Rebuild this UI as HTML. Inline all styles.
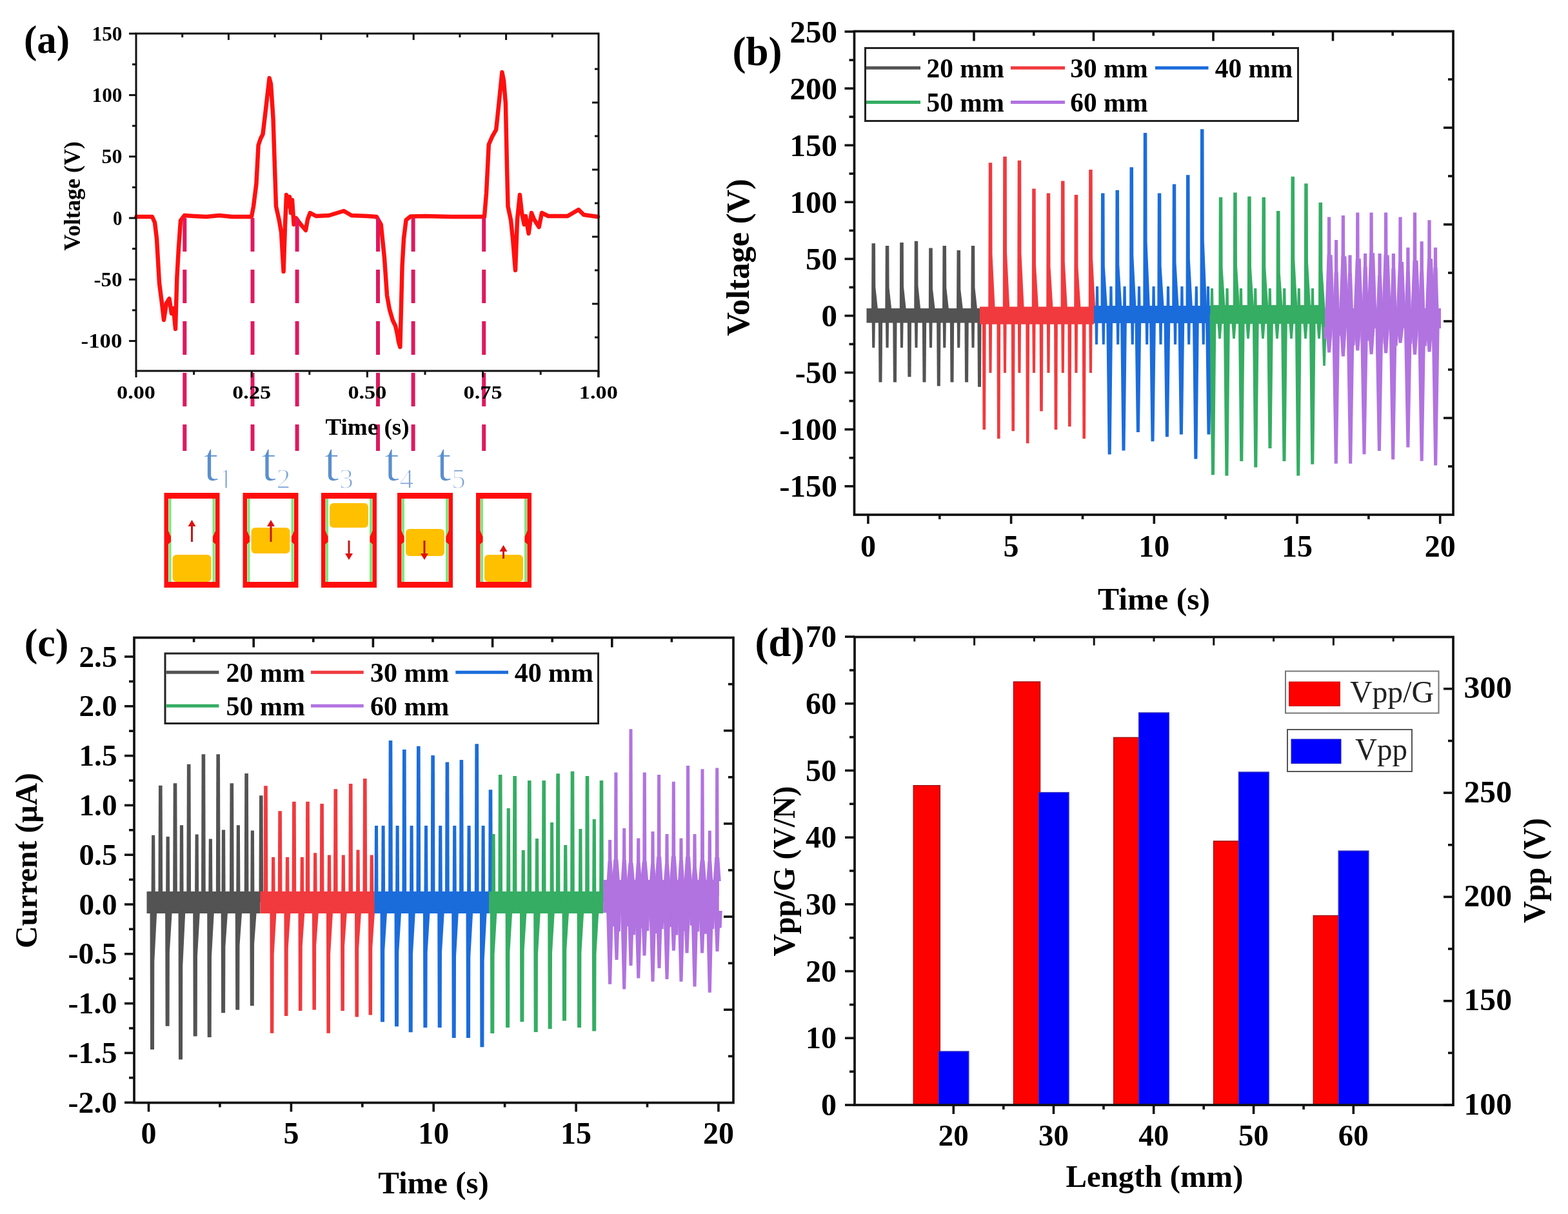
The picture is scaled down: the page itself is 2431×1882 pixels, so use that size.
<!DOCTYPE html>
<html><head><meta charset="utf-8"><title>Figure</title>
<style>
html,body{margin:0;padding:0;background:#fff;}
svg{display:block;}
text{font-family:'Liberation Serif', 'Times New Roman', serif;}
</style></head>
<body>
<svg width="2431" height="1882" viewBox="0 0 2431 1882">
<rect x="0" y="0" width="2431" height="1882" fill="#fff"/>
<g>
<rect x="0" y="0" width="2431" height="1882" fill="#fff"/>
<polyline points="211.5,336 236,336 240,345 243,370 247,439 251,470 254,496 258,470 262.5,463 266,486 269,478 272,510 274.4,430 277,384 280,342 286,334 300,335 320,336 340,334 360,336 390,336 393,320 397.4,285 400.6,225 404,215 407.5,208 412,170 417.6,121 420,130 423.5,183 426,260 428,320 432.7,341 436,360 439.6,421 442,350 444,302 447,320 449,305 451,330 453,310 455.6,348 459,338 462.5,343 468,350 474,357 477,340 480.8,330 490,335 510,334 533,327 545,334 570,335 583.8,336 590.7,348 596,400 600,458 604,480 609,497 613,505 615.8,517 618,530 620.4,538 623.6,412 626,370 629.6,341 636.4,335.6 660,335 700,336 751,336 754,300 757.8,224 763,212 769.2,201 773,165 778.4,112 781,125 783.9,160 786,260 787.5,320 792,341 795,370 799,419 802,340 805.9,302 809,330 812.7,348 815,335 819.6,362 824,330 828,340 835.6,352 840,330 850,335 880,335 897,325 905,333 927,336" fill="none" stroke="#ff1010" stroke-width="6.5" stroke-linejoin="round" stroke-linecap="round" />
<line x1="286.3" y1="338" x2="286.3" y2="699" stroke="#e0185e" stroke-width="6" stroke-dasharray="52 28"/>
<line x1="391.5" y1="338" x2="391.5" y2="699" stroke="#e0185e" stroke-width="6" stroke-dasharray="52 28"/>
<line x1="460.6" y1="338" x2="460.6" y2="699" stroke="#e0185e" stroke-width="6" stroke-dasharray="52 28"/>
<line x1="586" y1="338" x2="586" y2="699" stroke="#e0185e" stroke-width="6" stroke-dasharray="52 28"/>
<line x1="640.6" y1="338" x2="640.6" y2="699" stroke="#e0185e" stroke-width="6" stroke-dasharray="52 28"/>
<line x1="750.2" y1="338" x2="750.2" y2="699" stroke="#e0185e" stroke-width="6" stroke-dasharray="52 28"/>
<rect x="211" y="52" width="717" height="523" fill="none" stroke="#111" stroke-width="3" />
<line x1="200" y1="528.6" x2="211" y2="528.6" stroke="#111" stroke-width="3" />
<line x1="205" y1="480.9" x2="211" y2="480.9" stroke="#111" stroke-width="3" />
<line x1="200" y1="433.3" x2="211" y2="433.3" stroke="#111" stroke-width="3" />
<line x1="205" y1="385.6" x2="211" y2="385.6" stroke="#111" stroke-width="3" />
<line x1="200" y1="338" x2="211" y2="338" stroke="#111" stroke-width="3" />
<line x1="205" y1="290.4" x2="211" y2="290.4" stroke="#111" stroke-width="3" />
<line x1="200" y1="242.7" x2="211" y2="242.7" stroke="#111" stroke-width="3" />
<line x1="205" y1="195.1" x2="211" y2="195.1" stroke="#111" stroke-width="3" />
<line x1="200" y1="147.4" x2="211" y2="147.4" stroke="#111" stroke-width="3" />
<line x1="205" y1="99.8" x2="211" y2="99.8" stroke="#111" stroke-width="3" />
<line x1="200" y1="52.1" x2="211" y2="52.1" stroke="#111" stroke-width="3" />
<line x1="922" y1="523" x2="928" y2="523" stroke="#111" stroke-width="3" />
<line x1="918" y1="471" x2="928" y2="471" stroke="#111" stroke-width="3" />
<line x1="922" y1="419" x2="928" y2="419" stroke="#111" stroke-width="3" />
<line x1="918" y1="367" x2="928" y2="367" stroke="#111" stroke-width="3" />
<line x1="922" y1="315" x2="928" y2="315" stroke="#111" stroke-width="3" />
<line x1="918" y1="263" x2="928" y2="263" stroke="#111" stroke-width="3" />
<line x1="922" y1="211" x2="928" y2="211" stroke="#111" stroke-width="3" />
<line x1="918" y1="159" x2="928" y2="159" stroke="#111" stroke-width="3" />
<line x1="922" y1="107" x2="928" y2="107" stroke="#111" stroke-width="3" />
<line x1="282.7" y1="52" x2="282.7" y2="58" stroke="#111" stroke-width="3" />
<line x1="354.4" y1="52" x2="354.4" y2="62" stroke="#111" stroke-width="3" />
<line x1="426.1" y1="52" x2="426.1" y2="58" stroke="#111" stroke-width="3" />
<line x1="497.8" y1="52" x2="497.8" y2="62" stroke="#111" stroke-width="3" />
<line x1="569.5" y1="52" x2="569.5" y2="58" stroke="#111" stroke-width="3" />
<line x1="641.2" y1="52" x2="641.2" y2="62" stroke="#111" stroke-width="3" />
<line x1="712.9" y1="52" x2="712.9" y2="58" stroke="#111" stroke-width="3" />
<line x1="784.6" y1="52" x2="784.6" y2="62" stroke="#111" stroke-width="3" />
<line x1="856.3" y1="52" x2="856.3" y2="58" stroke="#111" stroke-width="3" />
<line x1="211" y1="575" x2="211" y2="585" stroke="#111" stroke-width="3" />
<line x1="300.6" y1="575" x2="300.6" y2="581" stroke="#111" stroke-width="3" />
<line x1="390.2" y1="575" x2="390.2" y2="585" stroke="#111" stroke-width="3" />
<line x1="479.8" y1="575" x2="479.8" y2="581" stroke="#111" stroke-width="3" />
<line x1="569.4" y1="575" x2="569.4" y2="585" stroke="#111" stroke-width="3" />
<line x1="659" y1="575" x2="659" y2="581" stroke="#111" stroke-width="3" />
<line x1="748.6" y1="575" x2="748.6" y2="585" stroke="#111" stroke-width="3" />
<line x1="838.2" y1="575" x2="838.2" y2="581" stroke="#111" stroke-width="3" />
<line x1="927.8" y1="575" x2="927.8" y2="585" stroke="#111" stroke-width="3" />
<line x1="928" y1="575" x2="928" y2="585" stroke="#111" stroke-width="3" />
<text x="189.5" y="62.6" font-size="31" font-weight="bold" fill="#000" text-anchor="end" textLength="47" lengthAdjust="spacingAndGlyphs" >150</text>
<text x="189.5" y="157.9" font-size="31" font-weight="bold" fill="#000" text-anchor="end" textLength="47" lengthAdjust="spacingAndGlyphs" >100</text>
<text x="189.5" y="253.2" font-size="31" font-weight="bold" fill="#000" text-anchor="end" textLength="32" lengthAdjust="spacingAndGlyphs" >50</text>
<text x="189.5" y="348.5" font-size="31" font-weight="bold" fill="#000" text-anchor="end" textLength="14.5" lengthAdjust="spacingAndGlyphs" >0</text>
<text x="189.5" y="443.8" font-size="31" font-weight="bold" fill="#000" text-anchor="end" textLength="44" lengthAdjust="spacingAndGlyphs" >-50</text>
<text x="189.5" y="539.1" font-size="31" font-weight="bold" fill="#000" text-anchor="end" textLength="64" lengthAdjust="spacingAndGlyphs" >-100</text>
<text x="211" y="618" font-size="29" font-weight="bold" fill="#000" text-anchor="middle" textLength="60" lengthAdjust="spacingAndGlyphs" >0.00</text>
<text x="390.2" y="618" font-size="29" font-weight="bold" fill="#000" text-anchor="middle" textLength="60" lengthAdjust="spacingAndGlyphs" >0.25</text>
<text x="569.4" y="618" font-size="29" font-weight="bold" fill="#000" text-anchor="middle" textLength="60" lengthAdjust="spacingAndGlyphs" >0.50</text>
<text x="748.6" y="618" font-size="29" font-weight="bold" fill="#000" text-anchor="middle" textLength="60" lengthAdjust="spacingAndGlyphs" >0.75</text>
<text x="927.8" y="618" font-size="29" font-weight="bold" fill="#000" text-anchor="middle" textLength="60" lengthAdjust="spacingAndGlyphs" >1.00</text>
<text x="569.5" y="673.5" font-size="35" font-weight="bold" fill="#000" text-anchor="middle" textLength="130" lengthAdjust="spacingAndGlyphs" >Time (s)</text>
<text transform="translate(124,304) rotate(-90)" x="0" y="0" font-size="35" font-weight="bold" fill="#000" text-anchor="middle" textLength="169.5" lengthAdjust="spacingAndGlyphs" >Voltage (V)</text>
<text x="72.5" y="81.5" font-size="61" font-weight="bold" fill="#000" text-anchor="middle" >(a)</text>
<text x="315" y="745" font-size="86" font-weight="normal" fill="#5b8fcf" stroke="#fff" stroke-width="1.6" paint-order="fill">t</text>
<text x="339" y="756.5" font-size="44" font-weight="normal" fill="#7da3d8" stroke="#fff" stroke-width="1.4">1</text>
<text x="404.5" y="745" font-size="86" font-weight="normal" fill="#5b8fcf" stroke="#fff" stroke-width="1.6" paint-order="fill">t</text>
<text x="428.5" y="756.5" font-size="44" font-weight="normal" fill="#7da3d8" stroke="#fff" stroke-width="1.4">2</text>
<text x="502" y="745" font-size="86" font-weight="normal" fill="#5b8fcf" stroke="#fff" stroke-width="1.6" paint-order="fill">t</text>
<text x="526" y="756.5" font-size="44" font-weight="normal" fill="#7da3d8" stroke="#fff" stroke-width="1.4">3</text>
<text x="595.5" y="745" font-size="86" font-weight="normal" fill="#5b8fcf" stroke="#fff" stroke-width="1.6" paint-order="fill">t</text>
<text x="619.5" y="756.5" font-size="44" font-weight="normal" fill="#7da3d8" stroke="#fff" stroke-width="1.4">4</text>
<text x="676" y="745" font-size="86" font-weight="normal" fill="#5b8fcf" stroke="#fff" stroke-width="1.6" paint-order="fill">t</text>
<text x="700" y="756.5" font-size="44" font-weight="normal" fill="#7da3d8" stroke="#fff" stroke-width="1.4">5</text>
<rect x="254.5" y="764" width="86" height="147" fill="#ff0d0d" stroke="none" stroke-width="0" />
<rect x="261" y="773" width="73" height="129" fill="#ffffff" stroke="none" stroke-width="0" />
<rect x="261.5" y="773" width="4" height="129" fill="#7ee87e" stroke="none" stroke-width="0" />
<rect x="329.5" y="773" width="4" height="129" fill="#7ee87e" stroke="none" stroke-width="0" />
<polygon points="260.5,822 265,832 265,840 260.5,844" fill="#ff0d0d" />
<polygon points="334.5,822 330,832 330,840 334.5,844" fill="#ff0d0d" />
<rect x="267.5" y="860" width="60" height="42" rx="6" fill="#ffc000"/>
<line x1="297.5" y1="840" x2="297.5" y2="814" stroke="#c01818" stroke-width="3" />
<polygon points="291.5,816 303.5,816 297.5,806" fill="#e01010" />
<rect x="376.5" y="764" width="86" height="147" fill="#ff0d0d" stroke="none" stroke-width="0" />
<rect x="383" y="773" width="73" height="129" fill="#ffffff" stroke="none" stroke-width="0" />
<rect x="383.5" y="773" width="4" height="129" fill="#7ee87e" stroke="none" stroke-width="0" />
<rect x="451.5" y="773" width="4" height="129" fill="#7ee87e" stroke="none" stroke-width="0" />
<polygon points="382.5,822 387,832 387,840 382.5,844" fill="#ff0d0d" />
<polygon points="456.5,822 452,832 452,840 456.5,844" fill="#ff0d0d" />
<rect x="389.5" y="818" width="60" height="40" rx="6" fill="#ffc000"/>
<line x1="420" y1="840" x2="420" y2="814" stroke="#c01818" stroke-width="3" />
<polygon points="414,816 426,816 420,806" fill="#e01010" />
<rect x="498" y="764" width="86" height="147" fill="#ff0d0d" stroke="none" stroke-width="0" />
<rect x="504.5" y="773" width="73" height="129" fill="#ffffff" stroke="none" stroke-width="0" />
<rect x="505" y="773" width="4" height="129" fill="#7ee87e" stroke="none" stroke-width="0" />
<rect x="573" y="773" width="4" height="129" fill="#7ee87e" stroke="none" stroke-width="0" />
<polygon points="504,822 508.5,832 508.5,840 504,844" fill="#ff0d0d" />
<polygon points="578,822 573.5,832 573.5,840 578,844" fill="#ff0d0d" />
<rect x="511" y="780" width="60" height="38" rx="6" fill="#ffc000"/>
<line x1="541" y1="838" x2="541" y2="860" stroke="#c01818" stroke-width="3" />
<polygon points="535,858 547,858 541,868" fill="#e01010" />
<rect x="616" y="764" width="86" height="147" fill="#ff0d0d" stroke="none" stroke-width="0" />
<rect x="622.5" y="773" width="73" height="129" fill="#ffffff" stroke="none" stroke-width="0" />
<rect x="623" y="773" width="4" height="129" fill="#7ee87e" stroke="none" stroke-width="0" />
<rect x="691" y="773" width="4" height="129" fill="#7ee87e" stroke="none" stroke-width="0" />
<polygon points="622,822 626.5,832 626.5,840 622,844" fill="#ff0d0d" />
<polygon points="696,822 691.5,832 691.5,840 696,844" fill="#ff0d0d" />
<rect x="629" y="820" width="60" height="42" rx="6" fill="#ffc000"/>
<line x1="658" y1="838" x2="658" y2="860" stroke="#c01818" stroke-width="3" />
<polygon points="652,858 664,858 658,868" fill="#e01010" />
<rect x="738" y="764" width="86" height="147" fill="#ff0d0d" stroke="none" stroke-width="0" />
<rect x="744.5" y="773" width="73" height="129" fill="#ffffff" stroke="none" stroke-width="0" />
<rect x="745" y="773" width="4" height="129" fill="#7ee87e" stroke="none" stroke-width="0" />
<rect x="813" y="773" width="4" height="129" fill="#7ee87e" stroke="none" stroke-width="0" />
<polygon points="744,822 748.5,832 748.5,840 744,844" fill="#ff0d0d" />
<polygon points="818,822 813.5,832 813.5,840 818,844" fill="#ff0d0d" />
<rect x="751" y="860" width="60" height="42" rx="6" fill="#ffc000"/>
<line x1="780.5" y1="866" x2="780.5" y2="853" stroke="#c01818" stroke-width="3" />
<polygon points="774.5,855 786.5,855 780.5,845" fill="#e01010" />
<rect x="1343.5" y="478" width="175.5" height="22.5" fill="#535353" stroke="none" stroke-width="0" />
<polygon points="1351.6,489.2 1352.2,539 1356.3,539 1357,489.2" fill="#535353" />
<polygon points="1372.9,489.2 1373.5,539 1377.6,539 1378.2,489.2" fill="#535353" />
<polygon points="1395.3,489.2 1396,539 1400,539 1400.7,489.2" fill="#535353" />
<polygon points="1417.8,489.2 1418.5,539 1422.5,539 1423.2,489.2" fill="#535353" />
<polygon points="1440.3,489.2 1441,539 1445,539 1445.7,489.2" fill="#535353" />
<polygon points="1461.6,489.2 1462.2,539 1466.3,539 1467,489.2" fill="#535353" />
<polygon points="1483.6,489.2 1484.2,539 1488.3,539 1489,489.2" fill="#535353" />
<polygon points="1505.8,489.2 1506.5,539 1510.5,539 1511.2,489.2" fill="#535353" />
<polygon points="1361.8,489.2 1362.5,592.6 1367.5,592.6 1368.2,489.2" fill="#535353" />
<polygon points="1384.2,489.2 1384.9,592.6 1390,592.6 1390.6,489.2" fill="#535353" />
<polygon points="1406.8,489.2 1407.4,584.3 1412.5,584.3 1413.1,489.2" fill="#535353" />
<polygon points="1429.8,489.2 1430.5,592.6 1435.5,592.6 1436.2,489.2" fill="#535353" />
<polygon points="1452.1,489.2 1452.8,598.5 1457.8,598.5 1458.5,489.2" fill="#535353" />
<polygon points="1472.8,489.2 1473.5,592.6 1478.5,592.6 1479.2,489.2" fill="#535353" />
<polygon points="1495.4,489.2 1496,592.6 1501.1,592.6 1501.8,489.2" fill="#535353" />
<polygon points="1515.3,489.2 1516,599.7 1521,599.7 1521.7,489.2" fill="#535353" />
<polygon points="1351,489.2 1351.5,377.3 1357,377.3 1357.3,444.5 1362,489.2" fill="#535353" />
<polygon points="1372.3,489.2 1372.8,380.9 1378.3,380.9 1378.6,445.9 1383.3,489.2" fill="#535353" />
<polygon points="1394.8,489.2 1395.2,376 1400.8,376 1401,443.9 1405.8,489.2" fill="#535353" />
<polygon points="1417.2,489.2 1417.8,373.8 1423.2,373.8 1423.5,443.1 1428.2,489.2" fill="#535353" />
<polygon points="1439.8,489.2 1440.2,384.4 1445.8,384.4 1446,447.3 1450.8,489.2" fill="#535353" />
<polygon points="1461,489.2 1461.5,380.9 1467,380.9 1467.3,445.9 1472,489.2" fill="#535353" />
<polygon points="1483,489.2 1483.5,388 1489,388 1489.3,448.8 1494,489.2" fill="#535353" />
<polygon points="1505.2,489.2 1505.8,380.9 1511.2,380.9 1511.5,445.9 1516.2,489.2" fill="#535353" />
<rect x="1519" y="475.5" width="177" height="27.2" fill="#f03a3e" stroke="none" stroke-width="0" />
<polygon points="1532.8,489.1 1533.5,578 1537.5,578 1538.2,489.1" fill="#f03a3e" />
<polygon points="1555.3,489.1 1556,578 1560,578 1560.7,489.1" fill="#f03a3e" />
<polygon points="1577.8,489.1 1578.4,578 1582.5,578 1583.1,489.1" fill="#f03a3e" />
<polygon points="1600.2,489.1 1600.9,578 1605,578 1605.6,489.1" fill="#f03a3e" />
<polygon points="1622.8,489.1 1623.4,578 1627.5,578 1628.1,489.1" fill="#f03a3e" />
<polygon points="1645.1,489.1 1645.8,578 1649.8,578 1650.5,489.1" fill="#f03a3e" />
<polygon points="1665.8,489.1 1666.4,578 1670.5,578 1671.1,489.1" fill="#f03a3e" />
<polygon points="1688.2,489.1 1688.9,578 1693,578 1693.6,489.1" fill="#f03a3e" />
<polygon points="1522.9,489.1 1523.5,665.9 1528.1,665.9 1528.7,489.1" fill="#f03a3e" />
<polygon points="1545.4,489.1 1546,680 1550.6,680 1551.2,489.1" fill="#f03a3e" />
<polygon points="1567.8,489.1 1568.4,668.3 1573,668.3 1573.6,489.1" fill="#f03a3e" />
<polygon points="1590.3,489.1 1590.9,687.2 1595.5,687.2 1596.1,489.1" fill="#f03a3e" />
<polygon points="1611.6,489.1 1612.2,637.5 1616.8,637.5 1617.4,489.1" fill="#f03a3e" />
<polygon points="1634.1,489.1 1634.7,665.9 1639.3,665.9 1639.9,489.1" fill="#f03a3e" />
<polygon points="1655.4,489.1 1656,661.2 1660.6,661.2 1661.2,489.1" fill="#f03a3e" />
<polygon points="1677.8,489.1 1678.4,680 1683,680 1683.6,489.1" fill="#f03a3e" />
<polygon points="1532.2,489.1 1532.8,252.3 1538.2,252.3 1538.5,394.4 1543.2,489.1" fill="#f03a3e" />
<polygon points="1554.8,489.1 1555.2,242.8 1560.8,242.8 1561,390.6 1565.8,489.1" fill="#f03a3e" />
<polygon points="1577.2,489.1 1577.7,248.7 1583.2,248.7 1583.5,392.9 1588.2,489.1" fill="#f03a3e" />
<polygon points="1599.7,489.1 1600.2,292.5 1605.7,292.5 1606,410.5 1610.7,489.1" fill="#f03a3e" />
<polygon points="1622.2,489.1 1622.7,299.6 1628.2,299.6 1628.5,413.3 1633.2,489.1" fill="#f03a3e" />
<polygon points="1644.5,489.1 1645,280.6 1650.5,280.6 1650.8,405.7 1655.5,489.1" fill="#f03a3e" />
<polygon points="1665.2,489.1 1665.7,301.9 1671.2,301.9 1671.5,414.2 1676.2,489.1" fill="#f03a3e" />
<polygon points="1687.7,489.1 1688.2,262.9 1693.7,262.9 1694,398.6 1698.7,489.1" fill="#f03a3e" />
<rect x="1696" y="474" width="181" height="27" fill="#1b6cdb" stroke="none" stroke-width="0" />
<polygon points="1697.3,487.5 1698,534 1702,534 1702.7,487.5" fill="#1b6cdb" />
<polygon points="1708.1,487.5 1708.8,534 1712.8,534 1713.5,487.5" fill="#1b6cdb" />
<polygon points="1730.5,487.5 1731.2,534 1735.2,534 1735.9,487.5" fill="#1b6cdb" />
<polygon points="1753,487.5 1753.7,534 1757.8,534 1758.4,487.5" fill="#1b6cdb" />
<polygon points="1775.5,487.5 1776.2,534 1780.2,534 1780.9,487.5" fill="#1b6cdb" />
<polygon points="1796.8,487.5 1797.5,534 1801.5,534 1802.2,487.5" fill="#1b6cdb" />
<polygon points="1819.3,487.5 1820,534 1824,534 1824.7,487.5" fill="#1b6cdb" />
<polygon points="1840.5,487.5 1841.2,534 1845.2,534 1845.9,487.5" fill="#1b6cdb" />
<polygon points="1863,487.5 1863.7,534 1867.8,534 1868.4,487.5" fill="#1b6cdb" />
<polygon points="1698.3,487.5 1699,444 1703,444 1703.7,487.5" fill="#1b6cdb" />
<polygon points="1719.8,487.5 1720.4,444 1724.5,444 1725.1,487.5" fill="#1b6cdb" />
<polygon points="1740.9,487.5 1741.5,444 1745.6,444 1746.2,487.5" fill="#1b6cdb" />
<polygon points="1763.3,487.5 1764,444 1768,444 1768.7,487.5" fill="#1b6cdb" />
<polygon points="1785.9,487.5 1786.5,444 1790.6,444 1791.2,487.5" fill="#1b6cdb" />
<polygon points="1808.3,487.5 1809,444 1813,444 1813.7,487.5" fill="#1b6cdb" />
<polygon points="1829.8,487.5 1830.4,444 1834.5,444 1835.1,487.5" fill="#1b6cdb" />
<polygon points="1852.1,487.5 1852.8,444 1856.8,444 1857.5,487.5" fill="#1b6cdb" />
<polygon points="1870.3,487.5 1871,444 1875,444 1875.7,487.5" fill="#1b6cdb" />
<polygon points="1715.2,487.5 1717.7,704.4 1722.7,704.4 1725.2,487.5" fill="#1b6cdb" />
<polygon points="1737,487.5 1739.5,698.5 1744.5,698.5 1747,487.5" fill="#1b6cdb" />
<polygon points="1759.4,487.5 1761.9,670 1766.9,670 1769.4,487.5" fill="#1b6cdb" />
<polygon points="1782,487.5 1784.5,684.3 1789.5,684.3 1792,487.5" fill="#1b6cdb" />
<polygon points="1804.4,487.5 1806.9,677.2 1811.9,677.2 1814.4,487.5" fill="#1b6cdb" />
<polygon points="1826.4,487.5 1828.9,673.6 1833.9,673.6 1836.4,487.5" fill="#1b6cdb" />
<polygon points="1848.9,487.5 1851.4,711.5 1856.4,711.5 1858.9,487.5" fill="#1b6cdb" />
<polygon points="1869,487.5 1871.5,673.6 1876.5,673.6 1879,487.5" fill="#1b6cdb" />
<polygon points="1706.5,487.5 1707,299.6 1712.5,299.6 1712.8,412.3 1717.5,487.5" fill="#1b6cdb" />
<polygon points="1729,487.5 1729.5,294.8 1735,294.8 1735.3,410.4 1740,487.5" fill="#1b6cdb" />
<polygon points="1751,487.5 1751.5,259.3 1757,259.3 1757.3,396.2 1762,487.5" fill="#1b6cdb" />
<polygon points="1772.3,487.5 1772.8,206.1 1778.3,206.1 1778.6,374.9 1783.3,487.5" fill="#1b6cdb" />
<polygon points="1794.3,487.5 1794.8,299.6 1800.3,299.6 1800.6,412.3 1805.3,487.5" fill="#1b6cdb" />
<polygon points="1817.2,487.5 1817.8,285.4 1823.2,285.4 1823.5,406.7 1828.2,487.5" fill="#1b6cdb" />
<polygon points="1838.5,487.5 1839,271.2 1844.5,271.2 1844.8,401 1849.5,487.5" fill="#1b6cdb" />
<polygon points="1860.5,487.5 1861,200.2 1866.5,200.2 1866.8,372.6 1871.5,487.5" fill="#1b6cdb" />
<rect x="1877" y="473" width="177" height="29" fill="#35ad63" stroke="none" stroke-width="0" />
<polygon points="1886.5,487.5 1889.2,525 1892.8,525 1895.5,487.5" fill="#35ad63" />
<polygon points="1908.5,487.5 1911.2,525 1914.8,525 1917.5,487.5" fill="#35ad63" />
<polygon points="1930.5,487.5 1933.2,525 1936.8,525 1939.5,487.5" fill="#35ad63" />
<polygon points="1953.5,487.5 1956.2,525 1959.8,525 1962.5,487.5" fill="#35ad63" />
<polygon points="1975.5,487.5 1978.2,525 1981.8,525 1984.5,487.5" fill="#35ad63" />
<polygon points="1997.5,487.5 2000.2,525 2003.8,525 2006.5,487.5" fill="#35ad63" />
<polygon points="2019.5,487.5 2022.2,525 2025.8,525 2028.5,487.5" fill="#35ad63" />
<polygon points="2040.5,487.5 2043.2,525 2046.8,525 2049.5,487.5" fill="#35ad63" />
<polygon points="2048.5,487.5 2051.2,567 2054.8,567 2057.5,487.5" fill="#35ad63" />
<polygon points="1876.3,487.5 1877,447 1881,447 1881.7,487.5" fill="#35ad63" />
<polygon points="1899.9,487.5 1900.5,447 1904.6,447 1905.2,487.5" fill="#35ad63" />
<polygon points="1921.2,487.5 1921.9,447 1926,447 1926.6,487.5" fill="#35ad63" />
<polygon points="1943.6,487.5 1944.2,447 1948.3,447 1949,487.5" fill="#35ad63" />
<polygon points="1966.1,487.5 1966.8,447 1970.8,447 1971.5,487.5" fill="#35ad63" />
<polygon points="1988.6,487.5 1989.2,447 1993.3,447 1994,487.5" fill="#35ad63" />
<polygon points="2011.1,487.5 2011.8,447 2015.8,447 2016.5,487.5" fill="#35ad63" />
<polygon points="2032.3,487.5 2033,447 2037,447 2037.7,487.5" fill="#35ad63" />
<polygon points="1875.5,487.5 1878,736.3 1883,736.3 1885.5,487.5" fill="#35ad63" />
<polygon points="1896.9,487.5 1899.4,737.5 1904.4,737.5 1906.9,487.5" fill="#35ad63" />
<polygon points="1919.8,487.5 1922.3,715 1927.3,715 1929.8,487.5" fill="#35ad63" />
<polygon points="1941.8,487.5 1944.3,724.5 1949.3,724.5 1951.8,487.5" fill="#35ad63" />
<polygon points="1964,487.5 1966.5,695 1971.5,695 1974,487.5" fill="#35ad63" />
<polygon points="1986,487.5 1988.5,715 1993.5,715 1996,487.5" fill="#35ad63" />
<polygon points="2007.8,487.5 2010.3,737.5 2015.3,737.5 2017.8,487.5" fill="#35ad63" />
<polygon points="2029.8,487.5 2032.3,719.8 2037.3,719.8 2039.8,487.5" fill="#35ad63" />
<polygon points="1889.3,487.5 1889.8,305.7 1895.3,305.7 1895.6,414.8 1900.3,487.5" fill="#35ad63" />
<polygon points="1911.7,487.5 1912.2,298.6 1917.7,298.6 1918,411.9 1922.7,487.5" fill="#35ad63" />
<polygon points="1933.7,487.5 1934.2,304.5 1939.7,304.5 1940,414.3 1944.7,487.5" fill="#35ad63" />
<polygon points="1956,487.5 1956.5,305.7 1962,305.7 1962.3,414.8 1967,487.5" fill="#35ad63" />
<polygon points="1978.5,487.5 1979,327 1984.5,327 1984.8,423.3 1989.5,487.5" fill="#35ad63" />
<polygon points="2001,487.5 2001.5,273.8 2007,273.8 2007.3,402 2012,487.5" fill="#35ad63" />
<polygon points="2021.7,487.5 2022.2,284.4 2027.7,284.4 2028,406.3 2032.7,487.5" fill="#35ad63" />
<polygon points="2044,487.5 2044.5,314 2050.1,314 2050.4,418.1 2055.1,487.5" fill="#35ad63" />
<rect x="2054" y="478" width="180" height="31" fill="#b173e0" stroke="none" stroke-width="0" />
<polygon points="2054.6,480 2057.6,395.3 2065.6,395.3 2068.6,480" fill="#b173e0" />
<polygon points="2066.7,480 2068.7,421.8 2074.7,421.8 2076.7,480" fill="#b173e0" />
<polygon points="2076.4,480 2079.4,397.2 2087.4,397.2 2090.4,480" fill="#b173e0" />
<polygon points="2088,480 2090,422.9 2096,422.9 2098,480" fill="#b173e0" />
<polygon points="2098.8,480 2101.8,400.8 2109.8,400.8 2112.8,480" fill="#b173e0" />
<polygon points="2111.7,480 2113.7,413.2 2119.7,413.2 2121.7,480" fill="#b173e0" />
<polygon points="2120.1,480 2123.1,392.2 2131.1,392.2 2134.1,480" fill="#b173e0" />
<polygon points="2134.1,480 2136.1,427.1 2142.1,427.1 2144.1,480" fill="#b173e0" />
<polygon points="2142.6,480 2145.6,395.6 2153.6,395.6 2156.6,480" fill="#b173e0" />
<polygon points="2155.4,480 2157.4,416.2 2163.4,416.2 2165.4,480" fill="#b173e0" />
<polygon points="2165,480 2168,405.9 2176,405.9 2179,480" fill="#b173e0" />
<polygon points="2177.9,480 2179.9,420.5 2185.9,420.5 2187.9,480" fill="#b173e0" />
<polygon points="2187.5,480 2190.5,403.7 2198.5,403.7 2201.5,480" fill="#b173e0" />
<polygon points="2199.2,480 2201.2,420.6 2207.2,420.6 2209.2,480" fill="#b173e0" />
<polygon points="2210,480 2213,400.9 2221,400.9 2224,480" fill="#b173e0" />
<polygon points="2220.5,480 2222.5,414.7 2228.5,414.7 2230.5,480" fill="#b173e0" />
<polygon points="2055.1,507 2058.1,546.5 2063.1,546.5 2066.1,507" fill="#b173e0" />
<polygon points="2076.9,507 2079.9,552.6 2084.9,552.6 2087.9,507" fill="#b173e0" />
<polygon points="2099.3,507 2102.3,543.6 2107.3,543.6 2110.3,507" fill="#b173e0" />
<polygon points="2120.6,507 2123.6,549.3 2128.6,549.3 2131.6,507" fill="#b173e0" />
<polygon points="2143.1,507 2146.1,547.5 2151.1,547.5 2154.1,507" fill="#b173e0" />
<polygon points="2165.5,507 2168.5,531.7 2173.5,531.7 2176.5,507" fill="#b173e0" />
<polygon points="2188,507 2191,549.7 2196,549.7 2199,507" fill="#b173e0" />
<polygon points="2210.5,507 2213.5,545.4 2218.5,545.4 2221.5,507" fill="#b173e0" />
<polygon points="2052.1,507 2052.8,525.4 2056.3,525.4 2057.1,507" fill="#b173e0" />
<polygon points="2073.9,507 2074.7,520.6 2078.2,520.6 2078.9,507" fill="#b173e0" />
<polygon points="2096.3,507 2097.1,535.6 2100.6,535.6 2101.3,507" fill="#b173e0" />
<polygon points="2117.6,507 2118.3,528.5 2121.8,528.5 2122.6,507" fill="#b173e0" />
<polygon points="2140.1,507 2140.8,532.9 2144.3,532.9 2145.1,507" fill="#b173e0" />
<polygon points="2162.5,507 2163.2,535.8 2166.8,535.8 2167.5,507" fill="#b173e0" />
<polygon points="2185,507 2185.8,532.9 2189.2,532.9 2190,507" fill="#b173e0" />
<polygon points="2207.5,507 2208.2,536.6 2211.8,536.6 2212.5,507" fill="#b173e0" />
<rect x="2054" y="478" width="180" height="31" fill="#b173e0" stroke="none" stroke-width="0" />
<polygon points="2068.5,493.5 2069.1,372 2074.2,372 2074.8,493.5" fill="#b173e0" />
<polygon points="2089.8,493.5 2090.4,395.6 2095.6,395.6 2096.2,493.5" fill="#b173e0" />
<polygon points="2113.5,493.5 2114.1,393 2119.2,393 2119.8,493.5" fill="#b173e0" />
<polygon points="2135.9,493.5 2136.5,393 2141.7,393 2142.2,493.5" fill="#b173e0" />
<polygon points="2157.2,493.5 2157.8,393 2163,393 2163.6,493.5" fill="#b173e0" />
<polygon points="2179.8,493.5 2180.3,383.8 2185.5,383.8 2186.1,493.5" fill="#b173e0" />
<polygon points="2201,493.5 2201.6,374.3 2206.8,374.3 2207.3,493.5" fill="#b173e0" />
<polygon points="2222.3,493.5 2222.9,383.8 2228.1,383.8 2228.7,493.5" fill="#b173e0" />
<polygon points="2057.4,493.5 2058,336.4 2063.2,336.4 2063.8,493.5" fill="#b173e0" />
<polygon points="2079.2,493.5 2079.8,334 2085,334 2085.6,493.5" fill="#b173e0" />
<polygon points="2101.7,493.5 2102.2,329.4 2107.4,329.4 2108,493.5" fill="#b173e0" />
<polygon points="2122.9,493.5 2123.5,329.4 2128.7,329.4 2129.2,493.5" fill="#b173e0" />
<polygon points="2145.4,493.5 2146,329.4 2151.2,329.4 2151.8,493.5" fill="#b173e0" />
<polygon points="2167.8,493.5 2168.4,336.4 2173.6,336.4 2174.2,493.5" fill="#b173e0" />
<polygon points="2190.3,493.5 2190.9,329.4 2196.1,329.4 2196.7,493.5" fill="#b173e0" />
<polygon points="2212.8,493.5 2213.4,341.2 2218.6,341.2 2219.2,493.5" fill="#b173e0" />
<polygon points="2065.3,505 2068.8,718.8 2073.8,718.8 2077.3,505" fill="#b173e0" />
<polygon points="2087.7,505 2091.2,718.8 2096.2,718.8 2099.7,505" fill="#b173e0" />
<polygon points="2109,505 2112.5,704.2 2117.5,704.2 2121,505" fill="#b173e0" />
<polygon points="2132.4,505 2135.9,698.9 2140.9,698.9 2144.4,505" fill="#b173e0" />
<polygon points="2153.7,505 2157.2,712.2 2162.2,712.2 2165.7,505" fill="#b173e0" />
<polygon points="2176.9,505 2180.4,693.5 2185.4,693.5 2188.9,505" fill="#b173e0" />
<polygon points="2198.2,505 2201.7,714.8 2206.7,714.8 2210.2,505" fill="#b173e0" />
<polygon points="2219.7,505 2223.2,721.5 2228.2,721.5 2231.7,505" fill="#b173e0" />
<rect x="1324.5" y="48.5" width="928.5" height="749.5" fill="none" stroke="#111" stroke-width="3.7" />
<line x1="1309.5" y1="753.8" x2="1324.5" y2="753.8" stroke="#111" stroke-width="3.6" />
<text x="1298" y="770.3" font-size="49" font-weight="bold" fill="#000" text-anchor="end" >-150</text>
<line x1="1316.5" y1="709.8" x2="1324.5" y2="709.8" stroke="#111" stroke-width="3.6" />
<line x1="1309.5" y1="665.7" x2="1324.5" y2="665.7" stroke="#111" stroke-width="3.6" />
<text x="1298" y="682.2" font-size="49" font-weight="bold" fill="#000" text-anchor="end" >-100</text>
<line x1="1316.5" y1="621.6" x2="1324.5" y2="621.6" stroke="#111" stroke-width="3.6" />
<line x1="1309.5" y1="577.6" x2="1324.5" y2="577.6" stroke="#111" stroke-width="3.6" />
<text x="1298" y="594.1" font-size="49" font-weight="bold" fill="#000" text-anchor="end" >-50</text>
<line x1="1316.5" y1="533.5" x2="1324.5" y2="533.5" stroke="#111" stroke-width="3.6" />
<line x1="1309.5" y1="489.5" x2="1324.5" y2="489.5" stroke="#111" stroke-width="3.6" />
<text x="1298" y="506" font-size="49" font-weight="bold" fill="#000" text-anchor="end" >0</text>
<line x1="1316.5" y1="445.4" x2="1324.5" y2="445.4" stroke="#111" stroke-width="3.6" />
<line x1="1309.5" y1="401.4" x2="1324.5" y2="401.4" stroke="#111" stroke-width="3.6" />
<text x="1298" y="417.9" font-size="49" font-weight="bold" fill="#000" text-anchor="end" >50</text>
<line x1="1316.5" y1="357.4" x2="1324.5" y2="357.4" stroke="#111" stroke-width="3.6" />
<line x1="1309.5" y1="313.3" x2="1324.5" y2="313.3" stroke="#111" stroke-width="3.6" />
<text x="1298" y="329.8" font-size="49" font-weight="bold" fill="#000" text-anchor="end" >100</text>
<line x1="1316.5" y1="269.2" x2="1324.5" y2="269.2" stroke="#111" stroke-width="3.6" />
<line x1="1309.5" y1="225.2" x2="1324.5" y2="225.2" stroke="#111" stroke-width="3.6" />
<text x="1298" y="241.7" font-size="49" font-weight="bold" fill="#000" text-anchor="end" >150</text>
<line x1="1316.5" y1="181.1" x2="1324.5" y2="181.1" stroke="#111" stroke-width="3.6" />
<line x1="1309.5" y1="137.1" x2="1324.5" y2="137.1" stroke="#111" stroke-width="3.6" />
<text x="1298" y="153.6" font-size="49" font-weight="bold" fill="#000" text-anchor="end" >200</text>
<line x1="1316.5" y1="93.1" x2="1324.5" y2="93.1" stroke="#111" stroke-width="3.6" />
<line x1="1309.5" y1="49" x2="1324.5" y2="49" stroke="#111" stroke-width="3.6" />
<text x="1298" y="65.5" font-size="49" font-weight="bold" fill="#000" text-anchor="end" >250</text>
<line x1="2245" y1="723" x2="2253" y2="723" stroke="#111" stroke-width="3.6" />
<line x1="2238" y1="648" x2="2253" y2="648" stroke="#111" stroke-width="3.6" />
<line x1="2245" y1="573" x2="2253" y2="573" stroke="#111" stroke-width="3.6" />
<line x1="2238" y1="498" x2="2253" y2="498" stroke="#111" stroke-width="3.6" />
<line x1="2245" y1="423" x2="2253" y2="423" stroke="#111" stroke-width="3.6" />
<line x1="2238" y1="348" x2="2253" y2="348" stroke="#111" stroke-width="3.6" />
<line x1="2245" y1="273" x2="2253" y2="273" stroke="#111" stroke-width="3.6" />
<line x1="2238" y1="198" x2="2253" y2="198" stroke="#111" stroke-width="3.6" />
<line x1="2245" y1="123" x2="2253" y2="123" stroke="#111" stroke-width="3.6" />
<line x1="1417.2" y1="48.5" x2="1417.2" y2="55.5" stroke="#111" stroke-width="3.6" />
<line x1="1510" y1="48.5" x2="1510" y2="63.5" stroke="#111" stroke-width="3.6" />
<line x1="1602.8" y1="48.5" x2="1602.8" y2="55.5" stroke="#111" stroke-width="3.6" />
<line x1="1695.5" y1="48.5" x2="1695.5" y2="63.5" stroke="#111" stroke-width="3.6" />
<line x1="1788.2" y1="48.5" x2="1788.2" y2="55.5" stroke="#111" stroke-width="3.6" />
<line x1="1881" y1="48.5" x2="1881" y2="63.5" stroke="#111" stroke-width="3.6" />
<line x1="1973.8" y1="48.5" x2="1973.8" y2="55.5" stroke="#111" stroke-width="3.6" />
<line x1="2066.5" y1="48.5" x2="2066.5" y2="63.5" stroke="#111" stroke-width="3.6" />
<line x1="2159.2" y1="48.5" x2="2159.2" y2="55.5" stroke="#111" stroke-width="3.6" />
<line x1="1345.9" y1="798" x2="1345.9" y2="812" stroke="#111" stroke-width="3.6" />
<text x="1345.9" y="862.5" font-size="48" font-weight="bold" fill="#000" text-anchor="middle" >0</text>
<line x1="1456.8" y1="798" x2="1456.8" y2="805" stroke="#111" stroke-width="3.6" />
<line x1="1567.6" y1="798" x2="1567.6" y2="812" stroke="#111" stroke-width="3.6" />
<text x="1567.6" y="862.5" font-size="48" font-weight="bold" fill="#000" text-anchor="middle" >5</text>
<line x1="1678.5" y1="798" x2="1678.5" y2="805" stroke="#111" stroke-width="3.6" />
<line x1="1789.3" y1="798" x2="1789.3" y2="812" stroke="#111" stroke-width="3.6" />
<text x="1789.3" y="862.5" font-size="48" font-weight="bold" fill="#000" text-anchor="middle" >10</text>
<line x1="1900.2" y1="798" x2="1900.2" y2="805" stroke="#111" stroke-width="3.6" />
<line x1="2011" y1="798" x2="2011" y2="812" stroke="#111" stroke-width="3.6" />
<text x="2011" y="862.5" font-size="48" font-weight="bold" fill="#000" text-anchor="middle" >15</text>
<line x1="2121.9" y1="798" x2="2121.9" y2="805" stroke="#111" stroke-width="3.6" />
<line x1="2232.7" y1="798" x2="2232.7" y2="812" stroke="#111" stroke-width="3.6" />
<text x="2232.7" y="862.5" font-size="48" font-weight="bold" fill="#000" text-anchor="middle" >20</text>
<text x="1789" y="944.5" font-size="49" font-weight="bold" fill="#000" text-anchor="middle" textLength="174" lengthAdjust="spacingAndGlyphs" >Time (s)</text>
<text transform="translate(1161,399) rotate(-90)" x="0" y="0" font-size="50" font-weight="bold" fill="#000" text-anchor="middle" textLength="243.5" lengthAdjust="spacingAndGlyphs" >Voltage (V)</text>
<text x="1174" y="100.5" font-size="63" font-weight="bold" fill="#000" text-anchor="middle" >(b)</text>
<rect x="1341.5" y="74.5" width="671" height="113" fill="#fff" stroke="#222" stroke-width="3" />
<line x1="1343" y1="105.2" x2="1427" y2="105.2" stroke="#535353" stroke-width="5" />
<text x="1436.5" y="119.5" font-size="42" font-weight="bold" fill="#000" text-anchor="start" textLength="120.5" lengthAdjust="spacingAndGlyphs" >20 mm</text>
<line x1="1567" y1="105.2" x2="1651" y2="105.2" stroke="#f03a3e" stroke-width="5" />
<text x="1659.3" y="119.5" font-size="42" font-weight="bold" fill="#000" text-anchor="start" textLength="120.5" lengthAdjust="spacingAndGlyphs" >30 mm</text>
<line x1="1791" y1="105.2" x2="1873.5" y2="105.2" stroke="#1b6cdb" stroke-width="5" />
<text x="1883.8" y="119.5" font-size="42" font-weight="bold" fill="#000" text-anchor="start" textLength="120.5" lengthAdjust="spacingAndGlyphs" >40 mm</text>
<line x1="1343" y1="158.5" x2="1427" y2="158.5" stroke="#35ad63" stroke-width="5" />
<text x="1436.5" y="172.8" font-size="42" font-weight="bold" fill="#000" text-anchor="start" textLength="120.5" lengthAdjust="spacingAndGlyphs" >50 mm</text>
<line x1="1567" y1="158.5" x2="1651" y2="158.5" stroke="#b173e0" stroke-width="5" />
<text x="1659.3" y="172.8" font-size="42" font-weight="bold" fill="#000" text-anchor="start" textLength="120.5" lengthAdjust="spacingAndGlyphs" >60 mm</text>
<rect x="227.5" y="1382" width="176" height="34" fill="#535353" stroke="none" stroke-width="0" />
<polygon points="234.5,1399 235.1,1294.7 240.2,1294.7 240.8,1399" fill="#535353" />
<polygon points="257.1,1399 257.6,1297 262.8,1297 263.3,1399" fill="#535353" />
<polygon points="278.4,1399 278.9,1279.3 284.1,1279.3 284.6,1399" fill="#535353" />
<polygon points="302,1399 302.6,1293.5 307.7,1293.5 308.2,1399" fill="#535353" />
<polygon points="323.2,1399 323.8,1300.6 328.9,1300.6 329.5,1399" fill="#535353" />
<polygon points="343.4,1399 343.9,1286.4 349.1,1286.4 349.6,1399" fill="#535353" />
<polygon points="366.2,1399 366.8,1279.3 371.9,1279.3 372.5,1399" fill="#535353" />
<polygon points="388.2,1399 388.8,1287.6 393.9,1287.6 394.5,1399" fill="#535353" />
<polygon points="232.5,1399 233,1626.9 239,1626.9 239.3,1490.2 244,1399" fill="#535353" />
<polygon points="256.1,1399 256.6,1590.7 262.6,1590.7 262.9,1475.7 267.6,1399" fill="#535353" />
<polygon points="276.5,1399 277,1642.6 283,1642.6 283.3,1496.4 288,1399" fill="#535353" />
<polygon points="299.2,1399 299.7,1606.5 305.7,1606.5 306,1482 310.7,1399" fill="#535353" />
<polygon points="321.2,1399 321.7,1608 327.7,1608 328,1482.6 332.7,1399" fill="#535353" />
<polygon points="342.6,1399 343.1,1570.3 349.1,1570.3 349.4,1467.5 354.1,1399" fill="#535353" />
<polygon points="364.7,1399 365.2,1565.5 371.2,1565.5 371.5,1465.6 376.2,1399" fill="#535353" />
<polygon points="387.3,1399 387.8,1559.2 393.8,1559.2 394.1,1463.1 398.8,1399" fill="#535353" />
<polygon points="245.4,1399 246,1217.8 251.6,1217.8 252.2,1399" fill="#535353" />
<polygon points="268.1,1399 268.7,1214.3 274.3,1214.3 274.9,1399" fill="#535353" />
<polygon points="289.3,1399 289.9,1184.7 295.5,1184.7 296.1,1399" fill="#535353" />
<polygon points="312,1399 312.6,1169.3 318.2,1169.3 318.8,1399" fill="#535353" />
<polygon points="334.8,1399 335.4,1169.3 341,1169.3 341.6,1399" fill="#535353" />
<polygon points="355.9,1399 356.5,1214.3 362.1,1214.3 362.7,1399" fill="#535353" />
<polygon points="378.7,1399 379.3,1198.9 384.9,1198.9 385.5,1399" fill="#535353" />
<polygon points="401.4,1399 402,1233.2 407.6,1233.2 408.2,1399" fill="#535353" />
<rect x="403.5" y="1382" width="177" height="34" fill="#f03a3e" stroke="none" stroke-width="0" />
<polygon points="420.6,1399 421.1,1328.8 426.2,1328.8 426.8,1399" fill="#f03a3e" />
<polygon points="442.4,1399 442.9,1328.8 448.1,1328.8 448.6,1399" fill="#f03a3e" />
<polygon points="465.2,1399 465.8,1328.8 470.9,1328.8 471.4,1399" fill="#f03a3e" />
<polygon points="485.6,1399 486.1,1322.3 491.2,1322.3 491.8,1399" fill="#f03a3e" />
<polygon points="507.4,1399 507.9,1325.6 513,1325.6 513.6,1399" fill="#f03a3e" />
<polygon points="529.1,1399 529.8,1325.6 534.8,1325.6 535.4,1399" fill="#f03a3e" />
<polygon points="551.9,1399 552.5,1317.5 557.5,1317.5 558.1,1399" fill="#f03a3e" />
<polygon points="573.1,1399 573.7,1325.6 578.8,1325.6 579.4,1399" fill="#f03a3e" />
<polygon points="418.4,1399 418.9,1601.7 424.4,1601.7 424.7,1480.1 429.4,1399" fill="#f03a3e" />
<polygon points="440.4,1399 440.9,1575 446.4,1575 446.8,1469.4 451.4,1399" fill="#f03a3e" />
<polygon points="462.4,1399 462.9,1567.1 468.4,1567.1 468.8,1466.2 473.4,1399" fill="#f03a3e" />
<polygon points="483.9,1399 484.4,1565.5 489.9,1565.5 490.2,1465.6 494.9,1399" fill="#f03a3e" />
<polygon points="505.9,1399 506.4,1601.7 511.9,1601.7 512.1,1480.1 516.9,1399" fill="#f03a3e" />
<polygon points="527.9,1399 528.4,1567.1 533.9,1567.1 534.1,1466.2 538.9,1399" fill="#f03a3e" />
<polygon points="550,1399 550.5,1576.6 556,1576.6 556.2,1470 561,1399" fill="#f03a3e" />
<polygon points="571,1399 571.5,1573.4 577,1573.4 577.3,1468.8 582,1399" fill="#f03a3e" />
<polygon points="408.6,1399 409.2,1218.3 414.8,1218.3 415.4,1399" fill="#f03a3e" />
<polygon points="430.7,1399 431.3,1257.3 436.9,1257.3 437.5,1399" fill="#f03a3e" />
<polygon points="452.5,1399 453.1,1242.7 458.7,1242.7 459.3,1399" fill="#f03a3e" />
<polygon points="473.6,1399 474.2,1242.7 479.8,1242.7 480.4,1399" fill="#f03a3e" />
<polygon points="495.7,1399 496.3,1245.9 501.9,1245.9 502.5,1399" fill="#f03a3e" />
<polygon points="516.9,1399 517.5,1223.2 523.1,1223.2 523.7,1399" fill="#f03a3e" />
<polygon points="540.3,1399 540.9,1215 546.5,1215 547.1,1399" fill="#f03a3e" />
<polygon points="562.4,1399 563,1206.9 568.6,1206.9 569.2,1399" fill="#f03a3e" />
<rect x="580.5" y="1382" width="177.5" height="34" fill="#1b6cdb" stroke="none" stroke-width="0" />
<polygon points="580.4,1399 581,1280 586,1280 586.6,1399" fill="#1b6cdb" />
<polygon points="591,1399 591.6,1280 596.6,1280 597.2,1399" fill="#1b6cdb" />
<polygon points="613,1399 613.6,1280 618.6,1280 619.2,1399" fill="#1b6cdb" />
<polygon points="635,1399 635.6,1280 640.6,1280 641.2,1399" fill="#1b6cdb" />
<polygon points="657.4,1399 658,1280 663,1280 663.6,1399" fill="#1b6cdb" />
<polygon points="679.6,1399 680.2,1280 685.3,1280 685.9,1399" fill="#1b6cdb" />
<polygon points="701.6,1399 702.2,1280 707.3,1280 707.9,1399" fill="#1b6cdb" />
<polygon points="724,1399 724.6,1280 729.6,1280 730.2,1399" fill="#1b6cdb" />
<polygon points="746,1399 746.6,1280 751.6,1280 752.2,1399" fill="#1b6cdb" />
<polygon points="589.5,1399 590,1584.2 596,1584.2 596.3,1473.1 601,1399" fill="#1b6cdb" />
<polygon points="611.5,1399 612,1591.3 618,1591.3 618.3,1475.9 623,1399" fill="#1b6cdb" />
<polygon points="633.2,1399 633.7,1600.2 639.7,1600.2 640,1479.5 644.7,1399" fill="#1b6cdb" />
<polygon points="655.9,1399 656.4,1593.1 662.4,1593.1 662.7,1476.6 667.4,1399" fill="#1b6cdb" />
<polygon points="678.2,1399 678.7,1593.1 684.7,1593.1 685,1476.6 689.7,1399" fill="#1b6cdb" />
<polygon points="700.2,1399 700.7,1609 706.7,1609 707,1483 711.7,1399" fill="#1b6cdb" />
<polygon points="722.5,1399 723,1609 729,1609 729.3,1483 734,1399" fill="#1b6cdb" />
<polygon points="743.9,1399 744.4,1623.2 750.4,1623.2 750.7,1488.7 755.4,1399" fill="#1b6cdb" />
<polygon points="602.1,1399 602.7,1147.9 608.3,1147.9 608.9,1399" fill="#1b6cdb" />
<polygon points="623.4,1399 624,1162 629.6,1162 630.2,1399" fill="#1b6cdb" />
<polygon points="645.4,1399 646,1156.8 651.6,1156.8 652.2,1399" fill="#1b6cdb" />
<polygon points="667.7,1399 668.3,1171 673.9,1171 674.5,1399" fill="#1b6cdb" />
<polygon points="690,1399 690.6,1181.6 696.2,1181.6 696.8,1399" fill="#1b6cdb" />
<polygon points="712,1399 712.6,1178 718.2,1178 718.8,1399" fill="#1b6cdb" />
<polygon points="735.8,1399 736.4,1153.2 742,1153.2 742.6,1399" fill="#1b6cdb" />
<polygon points="757.1,1399 757.7,1224.2 763.3,1224.2 763.9,1399" fill="#1b6cdb" />
<rect x="758" y="1382" width="177.5" height="34" fill="#35ad63" stroke="none" stroke-width="0" />
<polygon points="762,1399 762.6,1293 767.6,1293 768.2,1399" fill="#35ad63" />
<polygon points="785.1,1399 785.7,1253 790.8,1253 791.4,1399" fill="#35ad63" />
<polygon points="808.1,1399 808.7,1318 813.8,1318 814.4,1399" fill="#35ad63" />
<polygon points="829.4,1399 830,1300 835,1300 835.6,1399" fill="#35ad63" />
<polygon points="852.5,1399 853.1,1275 858.1,1275 858.8,1399" fill="#35ad63" />
<polygon points="873.6,1399 874.2,1310 879.3,1310 879.9,1399" fill="#35ad63" />
<polygon points="896.8,1399 897.4,1285 902.4,1285 903,1399" fill="#35ad63" />
<polygon points="918.1,1399 918.7,1270 923.8,1270 924.4,1399" fill="#35ad63" />
<polygon points="759.8,1399 760.3,1602 766.3,1602 766.6,1480.2 771.3,1399" fill="#35ad63" />
<polygon points="783.6,1399 784.1,1593 790.1,1593 790.4,1476.6 795.1,1399" fill="#35ad63" />
<polygon points="805.9,1399 806.4,1584 812.4,1584 812.7,1473 817.4,1399" fill="#35ad63" />
<polygon points="827.2,1399 827.7,1600 833.7,1600 834,1479.4 838.7,1399" fill="#35ad63" />
<polygon points="849.2,1399 849.7,1595 855.7,1595 856,1477.4 860.7,1399" fill="#35ad63" />
<polygon points="871.5,1399 872,1582.4 878,1582.4 878.3,1472.4 883,1399" fill="#35ad63" />
<polygon points="894.6,1399 895.1,1593 901.1,1593 901.4,1476.6 906.1,1399" fill="#35ad63" />
<polygon points="917.7,1399 918.2,1598.4 924.2,1598.4 924.5,1478.8 929.2,1399" fill="#35ad63" />
<polygon points="772.3,1399 772.9,1201 778.5,1201 779.1,1399" fill="#35ad63" />
<polygon points="794.7,1399 795.3,1202.9 800.9,1202.9 801.5,1399" fill="#35ad63" />
<polygon points="817.4,1399 818,1210 823.6,1210 824.2,1399" fill="#35ad63" />
<polygon points="839.8,1399 840.4,1210 846,1210 846.6,1399" fill="#35ad63" />
<polygon points="861.7,1399 862.3,1199.3 867.9,1199.3 868.5,1399" fill="#35ad63" />
<polygon points="884.1,1399 884.7,1195.8 890.3,1195.8 890.9,1399" fill="#35ad63" />
<polygon points="907.1,1399 907.7,1202.9 913.3,1202.9 913.9,1399" fill="#35ad63" />
<polygon points="929.1,1399 929.7,1210 935.3,1210 935.9,1399" fill="#35ad63" />
<rect x="935.5" y="1364" width="179" height="51" fill="#b173e0" stroke="none" stroke-width="0" />
<polygon points="948.9,1366 951.4,1332.2 958.4,1332.2 960.9,1366" fill="#b173e0" />
<polygon points="940.6,1366 942.6,1334.4 948.6,1334.4 950.6,1366" fill="#b173e0" />
<polygon points="972,1366 974.5,1337.4 981.5,1337.4 984,1366" fill="#b173e0" />
<polygon points="962.7,1366 964.7,1333.2 970.7,1333.2 972.7,1366" fill="#b173e0" />
<polygon points="993.2,1366 995.7,1335.6 1002.7,1335.6 1005.2,1366" fill="#b173e0" />
<polygon points="984.8,1366 986.8,1337.9 992.8,1337.9 994.8,1366" fill="#b173e0" />
<polygon points="1015.6,1366 1018.1,1327.9 1025.1,1327.9 1027.6,1366" fill="#b173e0" />
<polygon points="1007,1366 1009,1340.1 1015,1340.1 1017,1366" fill="#b173e0" />
<polygon points="1038.3,1366 1040.8,1327.6 1047.8,1327.6 1050.3,1366" fill="#b173e0" />
<polygon points="1029,1366 1031,1338.9 1037,1338.9 1039,1366" fill="#b173e0" />
<polygon points="1060.6,1366 1063.1,1328.1 1070.1,1328.1 1072.6,1366" fill="#b173e0" />
<polygon points="1051,1366 1053,1333.5 1059,1333.5 1061,1366" fill="#b173e0" />
<polygon points="1083,1366 1085.5,1333.8 1092.5,1333.8 1095,1366" fill="#b173e0" />
<polygon points="1072,1366 1074,1345.2 1080,1345.2 1082,1366" fill="#b173e0" />
<polygon points="1105.7,1366 1108.2,1329 1115.2,1329 1117.7,1366" fill="#b173e0" />
<polygon points="1095.3,1366 1097.3,1335.6 1103.3,1335.6 1105.3,1366" fill="#b173e0" />
<polygon points="951,1412 953.5,1488 958.5,1488 961,1412" fill="#b173e0" />
<polygon points="973,1412 975.5,1497 980.5,1497 983,1412" fill="#b173e0" />
<polygon points="994,1412 996.5,1481.5 1001.5,1481.5 1004,1412" fill="#b173e0" />
<polygon points="1017,1412 1019.5,1501 1024.5,1501 1027,1412" fill="#b173e0" />
<polygon points="1039.4,1412 1041.9,1473.7 1046.9,1473.7 1049.4,1412" fill="#b173e0" />
<polygon points="1060,1412 1062.5,1477.6 1067.5,1477.6 1070,1412" fill="#b173e0" />
<polygon points="1083.6,1412 1086.1,1477.6 1091.1,1477.6 1093.6,1412" fill="#b173e0" />
<polygon points="1107,1412 1109.5,1475 1114.5,1475 1117,1412" fill="#b173e0" />
<polygon points="956.9,1412 957.9,1444 961.9,1444 962.9,1412" fill="#b173e0" />
<polygon points="980,1412 981,1449.2 985,1449.2 986,1412" fill="#b173e0" />
<polygon points="1001.2,1412 1002.2,1443.2 1006.2,1443.2 1007.2,1412" fill="#b173e0" />
<polygon points="1023.6,1412 1024.6,1440.3 1028.6,1440.3 1029.6,1412" fill="#b173e0" />
<polygon points="1046.3,1412 1047.3,1449.6 1051.3,1449.6 1052.3,1412" fill="#b173e0" />
<polygon points="1068.6,1412 1069.6,1434.7 1073.6,1434.7 1074.6,1412" fill="#b173e0" />
<polygon points="1091,1412 1092,1447.7 1096,1447.7 1097,1412" fill="#b173e0" />
<polygon points="1113.7,1412 1114.7,1438.6 1118.7,1438.6 1119.7,1412" fill="#b173e0" />
<polygon points="947.6,1412 948.6,1436.3 952.6,1436.3 953.6,1412" fill="#b173e0" />
<polygon points="969.7,1412 970.7,1435.9 974.7,1435.9 975.7,1412" fill="#b173e0" />
<polygon points="991.8,1412 992.8,1438.9 996.8,1438.9 997.8,1412" fill="#b173e0" />
<polygon points="1014,1412 1015,1447.1 1019,1447.1 1020,1412" fill="#b173e0" />
<polygon points="1036,1412 1037,1436.9 1041,1436.9 1042,1412" fill="#b173e0" />
<polygon points="1058,1412 1059,1443.3 1063,1443.3 1064,1412" fill="#b173e0" />
<polygon points="1079,1412 1080,1444.2 1084,1444.2 1085,1412" fill="#b173e0" />
<polygon points="1102.3,1412 1103.3,1440 1107.3,1440 1108.3,1412" fill="#b173e0" />
<rect x="935.5" y="1364" width="179" height="50" fill="#b173e0" stroke="none" stroke-width="0" />
<polygon points="942.5,1389 943.1,1302 948.1,1302 948.8,1389" fill="#b173e0" />
<polygon points="964.6,1389 965.2,1284 970.2,1284 970.9,1389" fill="#b173e0" />
<polygon points="986.6,1389 987.2,1299.5 992.3,1299.5 992.9,1389" fill="#b173e0" />
<polygon points="1008.9,1389 1009.5,1289 1014.5,1289 1015.1,1389" fill="#b173e0" />
<polygon points="1030.8,1389 1031.5,1293 1036.5,1293 1037.2,1389" fill="#b173e0" />
<polygon points="1052.8,1389 1053.5,1299.5 1058.5,1299.5 1059.2,1389" fill="#b173e0" />
<polygon points="1073.8,1389 1074.5,1293 1079.5,1293 1080.2,1389" fill="#b173e0" />
<polygon points="1097.1,1389 1097.8,1287.7 1102.8,1287.7 1103.5,1389" fill="#b173e0" />
<polygon points="951.8,1389 952.4,1197.6 957.4,1197.6 958,1389" fill="#b173e0" />
<polygon points="974.9,1389 975.5,1130.2 980.5,1130.2 981.1,1389" fill="#b173e0" />
<polygon points="996.1,1389 996.7,1197.6 1001.8,1197.6 1002.4,1389" fill="#b173e0" />
<polygon points="1018.5,1389 1019.1,1201 1024.1,1201 1024.8,1389" fill="#b173e0" />
<polygon points="1041.1,1389 1041.8,1211.7 1046.8,1211.7 1047.5,1389" fill="#b173e0" />
<polygon points="1063.4,1389 1064,1186.9 1069.1,1186.9 1069.8,1389" fill="#b173e0" />
<polygon points="1085.8,1389 1086.5,1192.2 1091.5,1192.2 1092.2,1389" fill="#b173e0" />
<polygon points="1108.5,1389 1109.2,1190.5 1114.2,1190.5 1114.9,1389" fill="#b173e0" />
<polygon points="940.1,1410 943.1,1525.7 948.1,1525.7 951.1,1410" fill="#b173e0" />
<polygon points="962.2,1410 965.2,1533.5 970.2,1533.5 973.2,1410" fill="#b173e0" />
<polygon points="984.3,1410 987.3,1516.6 992.3,1516.6 995.3,1410" fill="#b173e0" />
<polygon points="1006.5,1410 1009.5,1521.8 1014.5,1521.8 1017.5,1410" fill="#b173e0" />
<polygon points="1028.5,1410 1031.5,1518 1036.5,1518 1039.5,1410" fill="#b173e0" />
<polygon points="1050.5,1410 1053.5,1521.8 1058.5,1521.8 1061.5,1410" fill="#b173e0" />
<polygon points="1071.5,1410 1074.5,1529.6 1079.5,1529.6 1082.5,1410" fill="#b173e0" />
<polygon points="1094.8,1410 1097.8,1538.7 1102.8,1538.7 1105.8,1410" fill="#b173e0" />
<rect x="208" y="988.5" width="929" height="721" fill="none" stroke="#111" stroke-width="3.7" />
<line x1="193" y1="1709.2" x2="208" y2="1709.2" stroke="#111" stroke-width="3.6" />
<text x="181.5" y="1724.7" font-size="47" font-weight="bold" fill="#000" text-anchor="end" textLength="76" lengthAdjust="spacingAndGlyphs" >-2.0</text>
<line x1="200" y1="1670.8" x2="208" y2="1670.8" stroke="#111" stroke-width="3.6" />
<line x1="193" y1="1632.4" x2="208" y2="1632.4" stroke="#111" stroke-width="3.6" />
<text x="181.5" y="1647.9" font-size="47" font-weight="bold" fill="#000" text-anchor="end" textLength="76" lengthAdjust="spacingAndGlyphs" >-1.5</text>
<line x1="200" y1="1594" x2="208" y2="1594" stroke="#111" stroke-width="3.6" />
<line x1="193" y1="1555.6" x2="208" y2="1555.6" stroke="#111" stroke-width="3.6" />
<text x="181.5" y="1571.1" font-size="47" font-weight="bold" fill="#000" text-anchor="end" textLength="76" lengthAdjust="spacingAndGlyphs" >-1.0</text>
<line x1="200" y1="1517.2" x2="208" y2="1517.2" stroke="#111" stroke-width="3.6" />
<line x1="193" y1="1478.8" x2="208" y2="1478.8" stroke="#111" stroke-width="3.6" />
<text x="181.5" y="1494.3" font-size="47" font-weight="bold" fill="#000" text-anchor="end" textLength="76" lengthAdjust="spacingAndGlyphs" >-0.5</text>
<line x1="200" y1="1440.4" x2="208" y2="1440.4" stroke="#111" stroke-width="3.6" />
<line x1="193" y1="1402" x2="208" y2="1402" stroke="#111" stroke-width="3.6" />
<text x="181.5" y="1417.5" font-size="47" font-weight="bold" fill="#000" text-anchor="end" textLength="59" lengthAdjust="spacingAndGlyphs" >0.0</text>
<line x1="200" y1="1363.6" x2="208" y2="1363.6" stroke="#111" stroke-width="3.6" />
<line x1="193" y1="1325.2" x2="208" y2="1325.2" stroke="#111" stroke-width="3.6" />
<text x="181.5" y="1340.7" font-size="47" font-weight="bold" fill="#000" text-anchor="end" textLength="59" lengthAdjust="spacingAndGlyphs" >0.5</text>
<line x1="200" y1="1286.8" x2="208" y2="1286.8" stroke="#111" stroke-width="3.6" />
<line x1="193" y1="1248.4" x2="208" y2="1248.4" stroke="#111" stroke-width="3.6" />
<text x="181.5" y="1263.9" font-size="47" font-weight="bold" fill="#000" text-anchor="end" textLength="59" lengthAdjust="spacingAndGlyphs" >1.0</text>
<line x1="200" y1="1210" x2="208" y2="1210" stroke="#111" stroke-width="3.6" />
<line x1="193" y1="1171.6" x2="208" y2="1171.6" stroke="#111" stroke-width="3.6" />
<text x="181.5" y="1187.1" font-size="47" font-weight="bold" fill="#000" text-anchor="end" textLength="59" lengthAdjust="spacingAndGlyphs" >1.5</text>
<line x1="200" y1="1133.2" x2="208" y2="1133.2" stroke="#111" stroke-width="3.6" />
<line x1="193" y1="1094.8" x2="208" y2="1094.8" stroke="#111" stroke-width="3.6" />
<text x="181.5" y="1110.3" font-size="47" font-weight="bold" fill="#000" text-anchor="end" textLength="59" lengthAdjust="spacingAndGlyphs" >2.0</text>
<line x1="200" y1="1056.4" x2="208" y2="1056.4" stroke="#111" stroke-width="3.6" />
<line x1="193" y1="1018" x2="208" y2="1018" stroke="#111" stroke-width="3.6" />
<text x="181.5" y="1033.5" font-size="47" font-weight="bold" fill="#000" text-anchor="end" textLength="59" lengthAdjust="spacingAndGlyphs" >2.5</text>
<line x1="1129" y1="1637.4" x2="1137" y2="1637.4" stroke="#111" stroke-width="3.6" />
<line x1="1122" y1="1565.3" x2="1137" y2="1565.3" stroke="#111" stroke-width="3.6" />
<line x1="1129" y1="1493.2" x2="1137" y2="1493.2" stroke="#111" stroke-width="3.6" />
<line x1="1122" y1="1421.1" x2="1137" y2="1421.1" stroke="#111" stroke-width="3.6" />
<line x1="1129" y1="1349" x2="1137" y2="1349" stroke="#111" stroke-width="3.6" />
<line x1="1122" y1="1276.9" x2="1137" y2="1276.9" stroke="#111" stroke-width="3.6" />
<line x1="1129" y1="1204.8" x2="1137" y2="1204.8" stroke="#111" stroke-width="3.6" />
<line x1="1122" y1="1132.7" x2="1137" y2="1132.7" stroke="#111" stroke-width="3.6" />
<line x1="1129" y1="1060.6" x2="1137" y2="1060.6" stroke="#111" stroke-width="3.6" />
<line x1="300.6" y1="988.5" x2="300.6" y2="995.5" stroke="#111" stroke-width="3.6" />
<line x1="393.2" y1="988.5" x2="393.2" y2="1003.5" stroke="#111" stroke-width="3.6" />
<line x1="485.8" y1="988.5" x2="485.8" y2="995.5" stroke="#111" stroke-width="3.6" />
<line x1="578.4" y1="988.5" x2="578.4" y2="1003.5" stroke="#111" stroke-width="3.6" />
<line x1="671" y1="988.5" x2="671" y2="995.5" stroke="#111" stroke-width="3.6" />
<line x1="763.6" y1="988.5" x2="763.6" y2="1003.5" stroke="#111" stroke-width="3.6" />
<line x1="856.2" y1="988.5" x2="856.2" y2="995.5" stroke="#111" stroke-width="3.6" />
<line x1="948.8" y1="988.5" x2="948.8" y2="1003.5" stroke="#111" stroke-width="3.6" />
<line x1="1041.4" y1="988.5" x2="1041.4" y2="995.5" stroke="#111" stroke-width="3.6" />
<line x1="230.5" y1="1709.5" x2="230.5" y2="1723.5" stroke="#111" stroke-width="3.6" />
<text x="230.5" y="1772.5" font-size="48" font-weight="bold" fill="#000" text-anchor="middle" >0</text>
<line x1="340.9" y1="1709.5" x2="340.9" y2="1716.5" stroke="#111" stroke-width="3.6" />
<line x1="451.4" y1="1709.5" x2="451.4" y2="1723.5" stroke="#111" stroke-width="3.6" />
<text x="451.4" y="1772.5" font-size="48" font-weight="bold" fill="#000" text-anchor="middle" >5</text>
<line x1="561.8" y1="1709.5" x2="561.8" y2="1716.5" stroke="#111" stroke-width="3.6" />
<line x1="672.2" y1="1709.5" x2="672.2" y2="1723.5" stroke="#111" stroke-width="3.6" />
<text x="672.2" y="1772.5" font-size="48" font-weight="bold" fill="#000" text-anchor="middle" >10</text>
<line x1="782.6" y1="1709.5" x2="782.6" y2="1716.5" stroke="#111" stroke-width="3.6" />
<line x1="893.1" y1="1709.5" x2="893.1" y2="1723.5" stroke="#111" stroke-width="3.6" />
<text x="893.1" y="1772.5" font-size="48" font-weight="bold" fill="#000" text-anchor="middle" >15</text>
<line x1="1003.5" y1="1709.5" x2="1003.5" y2="1716.5" stroke="#111" stroke-width="3.6" />
<line x1="1113.9" y1="1709.5" x2="1113.9" y2="1723.5" stroke="#111" stroke-width="3.6" />
<text x="1113.9" y="1772.5" font-size="48" font-weight="bold" fill="#000" text-anchor="middle" >20</text>
<text x="672" y="1850" font-size="49" font-weight="bold" fill="#000" text-anchor="middle" textLength="171.5" lengthAdjust="spacingAndGlyphs" >Time (s)</text>
<text transform="translate(57,1334) rotate(-90)" x="0" y="0" font-size="49" font-weight="bold" fill="#000" text-anchor="middle" textLength="272" lengthAdjust="spacingAndGlyphs" >Current (μA)</text>
<text x="72.1" y="1017" font-size="62" font-weight="bold" fill="#000" text-anchor="middle" >(c)</text>
<rect x="256" y="1013" width="671.5" height="108.5" fill="#fff" stroke="#222" stroke-width="3" />
<line x1="257.5" y1="1042.2" x2="339.4" y2="1042.2" stroke="#535353" stroke-width="5" />
<text x="350.6" y="1056.5" font-size="42" font-weight="bold" fill="#000" text-anchor="start" textLength="122.3" lengthAdjust="spacingAndGlyphs" >20 mm</text>
<line x1="482" y1="1042.2" x2="563.7" y2="1042.2" stroke="#f03a3e" stroke-width="5" />
<text x="574" y="1056.5" font-size="42" font-weight="bold" fill="#000" text-anchor="start" textLength="122.3" lengthAdjust="spacingAndGlyphs" >30 mm</text>
<line x1="706.3" y1="1042.2" x2="788" y2="1042.2" stroke="#1b6cdb" stroke-width="5" />
<text x="797.7" y="1056.5" font-size="42" font-weight="bold" fill="#000" text-anchor="start" textLength="122.3" lengthAdjust="spacingAndGlyphs" >40 mm</text>
<line x1="257.5" y1="1094.2" x2="339.4" y2="1094.2" stroke="#35ad63" stroke-width="5" />
<text x="350.6" y="1108.5" font-size="42" font-weight="bold" fill="#000" text-anchor="start" textLength="122.3" lengthAdjust="spacingAndGlyphs" >50 mm</text>
<line x1="482" y1="1094.2" x2="563.7" y2="1094.2" stroke="#b173e0" stroke-width="5" />
<text x="574" y="1108.5" font-size="42" font-weight="bold" fill="#000" text-anchor="start" textLength="122.3" lengthAdjust="spacingAndGlyphs" >60 mm</text>
<rect x="1416.3" y="1217.8" width="41" height="495.2" fill="#ff0000" stroke="#a01010" stroke-width="1.5" />
<rect x="1455.3" y="1630" width="46.5" height="83" fill="#0000ff" stroke="#3030c0" stroke-width="1.5" />
<rect x="1571.5" y="1057" width="41" height="656" fill="#ff0000" stroke="#a01010" stroke-width="1.5" />
<rect x="1610.5" y="1228.6" width="46.5" height="484.4" fill="#0000ff" stroke="#3030c0" stroke-width="1.5" />
<rect x="1726.7" y="1143.4" width="41" height="569.6" fill="#ff0000" stroke="#a01010" stroke-width="1.5" />
<rect x="1765.7" y="1105" width="46.5" height="608" fill="#0000ff" stroke="#3030c0" stroke-width="1.5" />
<rect x="1881.6" y="1304" width="41" height="409" fill="#ff0000" stroke="#a01010" stroke-width="1.5" />
<rect x="1920.6" y="1197" width="46.5" height="516" fill="#0000ff" stroke="#3030c0" stroke-width="1.5" />
<rect x="2036.3" y="1419.5" width="41" height="293.5" fill="#ff0000" stroke="#a01010" stroke-width="1.5" />
<rect x="2075.3" y="1319.2" width="46.5" height="393.8" fill="#0000ff" stroke="#3030c0" stroke-width="1.5" />
<rect x="1325" y="987.5" width="928" height="725.5" fill="none" stroke="#111" stroke-width="3.7" />
<line x1="1310" y1="1713" x2="1325" y2="1713" stroke="#111" stroke-width="3.6" />
<text x="1297" y="1729" font-size="48" font-weight="bold" fill="#000" text-anchor="end" >0</text>
<line x1="1317" y1="1661.2" x2="1325" y2="1661.2" stroke="#111" stroke-width="3.6" />
<line x1="1310" y1="1609.3" x2="1325" y2="1609.3" stroke="#111" stroke-width="3.6" />
<text x="1297" y="1625.3" font-size="48" font-weight="bold" fill="#000" text-anchor="end" >10</text>
<line x1="1317" y1="1557.5" x2="1325" y2="1557.5" stroke="#111" stroke-width="3.6" />
<line x1="1310" y1="1505.6" x2="1325" y2="1505.6" stroke="#111" stroke-width="3.6" />
<text x="1297" y="1521.6" font-size="48" font-weight="bold" fill="#000" text-anchor="end" >20</text>
<line x1="1317" y1="1453.8" x2="1325" y2="1453.8" stroke="#111" stroke-width="3.6" />
<line x1="1310" y1="1401.9" x2="1325" y2="1401.9" stroke="#111" stroke-width="3.6" />
<text x="1297" y="1417.9" font-size="48" font-weight="bold" fill="#000" text-anchor="end" >30</text>
<line x1="1317" y1="1350" x2="1325" y2="1350" stroke="#111" stroke-width="3.6" />
<line x1="1310" y1="1298.2" x2="1325" y2="1298.2" stroke="#111" stroke-width="3.6" />
<text x="1297" y="1314.2" font-size="48" font-weight="bold" fill="#000" text-anchor="end" >40</text>
<line x1="1317" y1="1246.3" x2="1325" y2="1246.3" stroke="#111" stroke-width="3.6" />
<line x1="1310" y1="1194.5" x2="1325" y2="1194.5" stroke="#111" stroke-width="3.6" />
<text x="1297" y="1210.5" font-size="48" font-weight="bold" fill="#000" text-anchor="end" >50</text>
<line x1="1317" y1="1142.7" x2="1325" y2="1142.7" stroke="#111" stroke-width="3.6" />
<line x1="1310" y1="1090.8" x2="1325" y2="1090.8" stroke="#111" stroke-width="3.6" />
<text x="1297" y="1106.8" font-size="48" font-weight="bold" fill="#000" text-anchor="end" >60</text>
<line x1="1317" y1="1039" x2="1325" y2="1039" stroke="#111" stroke-width="3.6" />
<line x1="1310" y1="987.1" x2="1325" y2="987.1" stroke="#111" stroke-width="3.6" />
<text x="1297" y="1003.1" font-size="48" font-weight="bold" fill="#000" text-anchor="end" >70</text>
<line x1="2238" y1="1713" x2="2253" y2="1713" stroke="#111" stroke-width="3.6" />
<text x="2269.5" y="1727.5" font-size="48" font-weight="bold" fill="#000" text-anchor="start" textLength="74.5" lengthAdjust="spacingAndGlyphs" >100</text>
<line x1="2245" y1="1632.3" x2="2253" y2="1632.3" stroke="#111" stroke-width="3.6" />
<line x1="2238" y1="1551.7" x2="2253" y2="1551.7" stroke="#111" stroke-width="3.6" />
<text x="2269.5" y="1566.2" font-size="48" font-weight="bold" fill="#000" text-anchor="start" textLength="74.5" lengthAdjust="spacingAndGlyphs" >150</text>
<line x1="2245" y1="1471" x2="2253" y2="1471" stroke="#111" stroke-width="3.6" />
<line x1="2238" y1="1390.4" x2="2253" y2="1390.4" stroke="#111" stroke-width="3.6" />
<text x="2269.5" y="1404.9" font-size="48" font-weight="bold" fill="#000" text-anchor="start" textLength="74.5" lengthAdjust="spacingAndGlyphs" >200</text>
<line x1="2245" y1="1309.8" x2="2253" y2="1309.8" stroke="#111" stroke-width="3.6" />
<line x1="2238" y1="1229.1" x2="2253" y2="1229.1" stroke="#111" stroke-width="3.6" />
<text x="2269.5" y="1243.6" font-size="48" font-weight="bold" fill="#000" text-anchor="start" textLength="74.5" lengthAdjust="spacingAndGlyphs" >250</text>
<line x1="2245" y1="1148.5" x2="2253" y2="1148.5" stroke="#111" stroke-width="3.6" />
<line x1="2238" y1="1067.8" x2="2253" y2="1067.8" stroke="#111" stroke-width="3.6" />
<text x="2269.5" y="1082.3" font-size="48" font-weight="bold" fill="#000" text-anchor="start" textLength="74.5" lengthAdjust="spacingAndGlyphs" >300</text>
<line x1="1417.8" y1="987.5" x2="1417.8" y2="994.5" stroke="#111" stroke-width="3" />
<line x1="1510.6" y1="987.5" x2="1510.6" y2="1000.5" stroke="#111" stroke-width="3" />
<line x1="1603.4" y1="987.5" x2="1603.4" y2="994.5" stroke="#111" stroke-width="3" />
<line x1="1696.2" y1="987.5" x2="1696.2" y2="1000.5" stroke="#111" stroke-width="3" />
<line x1="1789" y1="987.5" x2="1789" y2="994.5" stroke="#111" stroke-width="3" />
<line x1="1881.8" y1="987.5" x2="1881.8" y2="1000.5" stroke="#111" stroke-width="3" />
<line x1="1974.6" y1="987.5" x2="1974.6" y2="994.5" stroke="#111" stroke-width="3" />
<line x1="2067.4" y1="987.5" x2="2067.4" y2="1000.5" stroke="#111" stroke-width="3" />
<line x1="2160.2" y1="987.5" x2="2160.2" y2="994.5" stroke="#111" stroke-width="3" />
<line x1="1478.3" y1="1713" x2="1478.3" y2="1727" stroke="#111" stroke-width="3.6" />
<line x1="1633.5" y1="1713" x2="1633.5" y2="1727" stroke="#111" stroke-width="3.6" />
<line x1="1788.7" y1="1713" x2="1788.7" y2="1727" stroke="#111" stroke-width="3.6" />
<line x1="1943.6" y1="1713" x2="1943.6" y2="1727" stroke="#111" stroke-width="3.6" />
<line x1="2098.3" y1="1713" x2="2098.3" y2="1727" stroke="#111" stroke-width="3.6" />
<line x1="1555.8" y1="1713" x2="1555.8" y2="1720" stroke="#111" stroke-width="3.6" />
<line x1="1711" y1="1713" x2="1711" y2="1720" stroke="#111" stroke-width="3.6" />
<line x1="1866.2" y1="1713" x2="1866.2" y2="1720" stroke="#111" stroke-width="3.6" />
<line x1="2021.1" y1="1713" x2="2021.1" y2="1720" stroke="#111" stroke-width="3.6" />
<text x="1478.3" y="1775.5" font-size="47" font-weight="bold" fill="#000" text-anchor="middle" >20</text>
<text x="1633.5" y="1775.5" font-size="47" font-weight="bold" fill="#000" text-anchor="middle" >30</text>
<text x="1788.7" y="1775.5" font-size="47" font-weight="bold" fill="#000" text-anchor="middle" >40</text>
<text x="1943.6" y="1775.5" font-size="47" font-weight="bold" fill="#000" text-anchor="middle" >50</text>
<text x="2098.3" y="1775.5" font-size="47" font-weight="bold" fill="#000" text-anchor="middle" >60</text>
<text x="1790" y="1840" font-size="49" font-weight="bold" fill="#000" text-anchor="middle" textLength="275" lengthAdjust="spacingAndGlyphs" >Length (mm)</text>
<text transform="translate(1231.5,1350.5) rotate(-90)" x="0" y="0" font-size="49" font-weight="bold" fill="#000" text-anchor="middle" textLength="264" lengthAdjust="spacingAndGlyphs" >Vpp/G (V/N)</text>
<text transform="translate(2395,1349.5) rotate(-90)" x="0" y="0" font-size="49" font-weight="bold" fill="#000" text-anchor="middle" textLength="163" lengthAdjust="spacingAndGlyphs" >Vpp (V)</text>
<text x="1209" y="1016.8" font-size="63" font-weight="bold" fill="#000" text-anchor="middle" >(d)</text>
<rect x="1993" y="1040.5" width="237.5" height="65" fill="#fff" stroke="#777" stroke-width="2" />
<rect x="1998.5" y="1057" width="79" height="37.5" fill="#ff0000" stroke="#c02020" stroke-width="1" />
<text x="2093" y="1089" font-size="48" font-weight="normal" fill="#222" text-anchor="start" textLength="130" lengthAdjust="spacingAndGlyphs" >Vpp/G</text>
<rect x="1996" y="1131" width="193" height="65" fill="#fff" stroke="#555" stroke-width="2" />
<rect x="2002" y="1146" width="77" height="37.5" fill="#0000ff" stroke="#2020c0" stroke-width="1" />
<text x="2101" y="1178" font-size="48" font-weight="normal" fill="#222" text-anchor="start" textLength="81" lengthAdjust="spacingAndGlyphs" >Vpp</text>
</g>
</svg>
</body></html>
